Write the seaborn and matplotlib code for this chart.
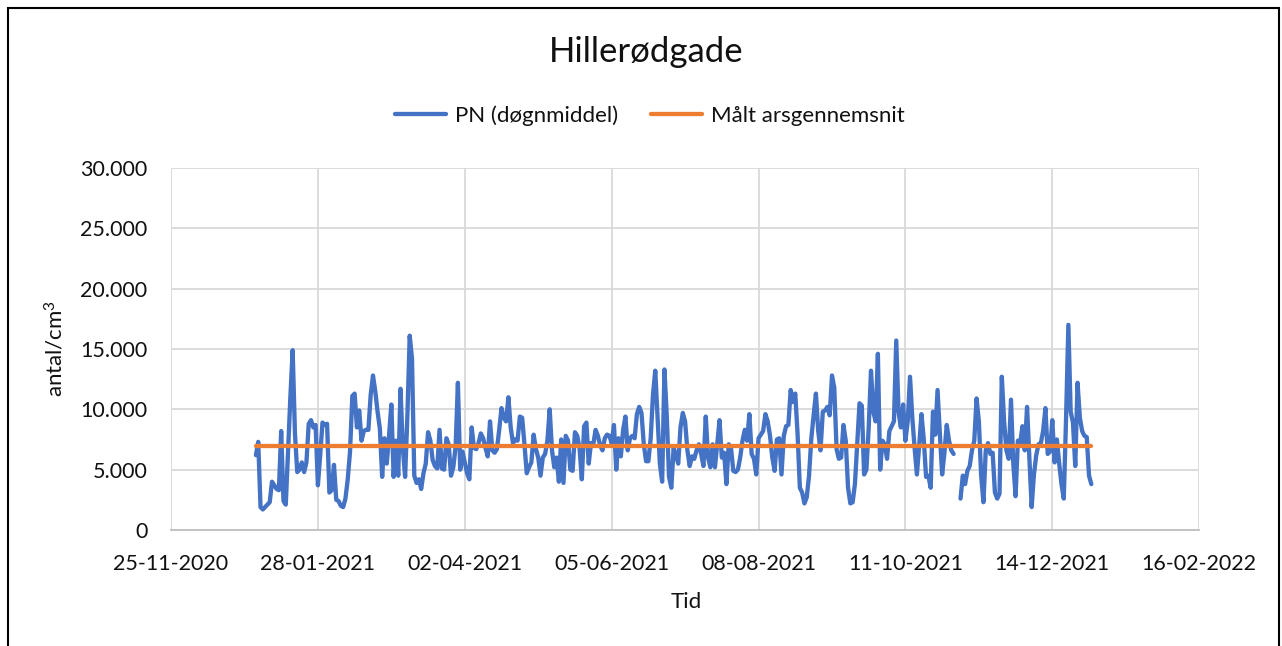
import pandas as pd
import matplotlib
matplotlib.use('Agg')
import matplotlib.pyplot as plt
import matplotlib.dates as mdates
from matplotlib.ticker import FuncFormatter
from matplotlib.lines import Line2D
from matplotlib.patches import Rectangle
import seaborn as sns

# daily means (PN, antal/cm3), 2021; None = no data
START = '2021-01-01'
PN_JAN = [6200, 7300, 1900, 1700, 1900, 2100, 2300, 4000, 3700, 3400, 3300, 8200, 2400, 2100, 6500, 11000,
          14900, 8000, 4800, 5000, 5600, 4800, 5600, 8800, 9100, 8500, 8700, 3700, 6200, 8900, 8700]
PN_FEB = [8800, 3100, 3300, 5400, 2500, 2400, 2000, 1900, 2600, 4200, 6500, 11100, 11300, 8500, 9900, 7400,
          8200, 8300, 8300, 11200, 12800, 11500, 9800, 8400, 4400, 7600, 5500, 7800]
PN_MAR = [10400, 4400, 7400, 4500, 11700, 6800, 4400, 9500, 16100, 14200, 4500, 3900, 4200, 3400, 4700, 5500,
          8100, 7400, 5800, 5300, 5100, 8300, 5100, 5000, 7600, 7100, 4500, 5200, 6900, 12200, 5000]
PN_APR = [6500, 5600, 4700, 4200, 8500, 6800, 6700, 7200, 8000, 7600, 6800, 6100, 9000, 6600, 6400, 6700,
          8300, 10100, 9300, 9000, 11000, 8500, 7200, 7500, 7400, 9400, 9300, 7100, 4700, 5200]
PN_MAY = [5600, 7900, 6700, 6000, 4500, 6000, 6300, 7400, 10000, 6600, 5200, 6000, 4000, 7500, 3900, 7800,
          7400, 5000, 4900, 8100, 7800, 6800, 4200, 8600, 8900, 5500, 7200, 7100, 8300, 7800, 7000]
PN_JUN = [6600, 7600, 7900, 7800, 7200, 8700, 5000, 7600, 6100, 8300, 9400, 6600, 7600, 7800, 7600, 9600,
          10200, 9700, 7100, 5700, 5700, 7600, 11200, 13200, 9300, 5500, 4000, 13300, 9500, 4400]
PN_JUL = [3500, 6800, 6200, 5500, 8500, 9700, 9000, 6600, 5300, 6100, 5900, 6600, 7100, 6300, 5300, 9400,
          6000, 5200, 7100, 5200, 7100, 9100, 6000, 6400, 3800, 7100, 6800, 4900, 4800, 5000, 6000]
PN_AUG = [7400, 8300, 7400, 9600, 6300, 5900, 4600, 7600, 7900, 8200, 9600, 9000, 7800, 6000, 4900, 7500,
          7600, 4600, 7800, 8600, 8700, 11600, 10600, 11300, 8000, 3500, 3100, 2200, 2700, 4500, 7600]
PN_SEP = [9500, 11300, 8200, 6600, 9800, 9900, 10200, 9500, 12800, 11800, 6700, 5900, 6000, 8700, 7400, 3500,
          2200, 2300, 3800, 7100, 10500, 10300, 4600, 5000, 8500, 13200, 9800, 9000, 14600, 5000]
PN_OCT = [7400, 7100, 5900, 8200, 8600, 9000, 15700, 9800, 8500, 10400, 7400, 9000, 12700, 9300, 6800, 4600,
          7000, 9600, 7500, 4400, 4500, 3500, 9800, 7900, 11600, 8000, 4600, 6400, 8700, 7400, 6600]
PN_NOV = [6300, None, None, 2600, 4500, 3800, 4900, 5300, 6600, 7400, 10900, 9000, 4500, 2300, 6600, 7200,
          6300, 6400, 3100, 2600, 3000, 12700, 9000, 6600, 5900, 10800, 5500, 2800, 7400, 7200]
PN_DEC = [8600, 6600, 10200, 6000, 1900, 4600, 6200, 7100, 7200, 8200, 10100, 6300, 6500, 9100, 5600, 7500,
          5500, 3800, 2600, 9300, 17000, 9800, 8900, 5300, 12200, 9300, 8200, 7800, 7700, 4500, 3800]

AVG_DATES = ['2021-01-01', '2021-12-31']
AVG_VALUES = [6950, 6950]

LABELS = ['PN (døgnmiddel)', 'Målt arsgennemsnit']
TICK_START = '2020-11-25'
TICK_STEP = '64D'
N_TICKS = 8

BLUE = '#4472C4'
ORANGE = '#ED7D31'
TXT = '#111111'
LW = 3.1

sns.set_theme(style='white')
plt.rcParams['font.family'] = ['Lato', 'DejaVu Sans']
plt.rcParams['mathtext.default'] = 'regular'

pn = PN_JAN + PN_FEB + PN_MAR + PN_APR + PN_MAY + PN_JUN + PN_JUL + PN_AUG + PN_SEP + PN_OCT + PN_NOV + PN_DEC
df = pd.DataFrame({'dato': pd.date_range(START, periods=len(pn), freq='D'),
                   'pn': pd.to_numeric(pd.Series(pn, dtype='object'))})
# split at the missing days so the line has a gap there
df['segment'] = df['pn'].isna().cumsum()
df = df.dropna()

avg = pd.DataFrame({'dato': pd.to_datetime(AVG_DATES), 'pn': AVG_VALUES})
ticks = pd.date_range(TICK_START, periods=N_TICKS, freq=TICK_STEP)

fig = plt.figure(figsize=(12.82, 6.46), dpi=100)
ax = fig.add_axes([0.1334, 0.1796, 0.802, 0.5604])

sns.lineplot(data=df, x='dato', y='pn', units='segment', estimator=None,
             color=BLUE, lw=LW, ax=ax, legend=False)
sns.lineplot(data=avg, x='dato', y='pn', color=ORANGE, lw=LW, ax=ax, legend=False)

ax.set_xlim(ticks[0], ticks[-1])
ax.set_ylim(0, 30000)
ax.set_xticks(ticks)
ax.xaxis.set_major_formatter(mdates.DateFormatter('%d-%m-%Y'))
ax.set_yticks(range(0, 30001, 5000))
ax.yaxis.set_major_formatter(FuncFormatter(lambda v, p: f'{v:,.0f}'.replace(',', '.')))
ax.grid(True, color='#d9d9d9', lw=1.3)
ax.set_axisbelow(True)
for side in ('top', 'right', 'left'):
    ax.spines[side].set_visible(False)
ax.spines['bottom'].set_color('#bfbfbf')
ax.spines['bottom'].set_linewidth(1.3)
ax.tick_params(axis='both', length=0, labelsize=15.5, colors=TXT)
ax.tick_params(axis='y', pad=17)
ax.tick_params(axis='x', pad=17)

ax.set_xlabel('Tid', fontsize=16, color=TXT)
ax.set_ylabel('antal/cm$^{3}$', fontsize=16, color=TXT)
ax.xaxis.set_label_coords(0.501, -0.172)
ax.yaxis.set_label_coords(-0.101, 0.5)

fig.text(0.504, 0.919, 'Hillerødgade', ha='center', va='center', fontsize=25, color=TXT)
handles = [Line2D([], [], color=BLUE, lw=LW), Line2D([], [], color=ORANGE, lw=LW)]
fig.legend(handles, LABELS, loc='center', bbox_to_anchor=(0.507, 0.821), ncol=2, frameon=False,
           fontsize=16, handlelength=2.3, columnspacing=1.5, handletextpad=0.4, labelcolor=TXT)

fig.add_artist(Rectangle((8 / 1282, -0.05), (1279 - 8) / 1282, 1.0376, transform=fig.transFigure,
                         fill=False, ec='black', lw=1.5))

fig.savefig('out.png', dpi=100)
